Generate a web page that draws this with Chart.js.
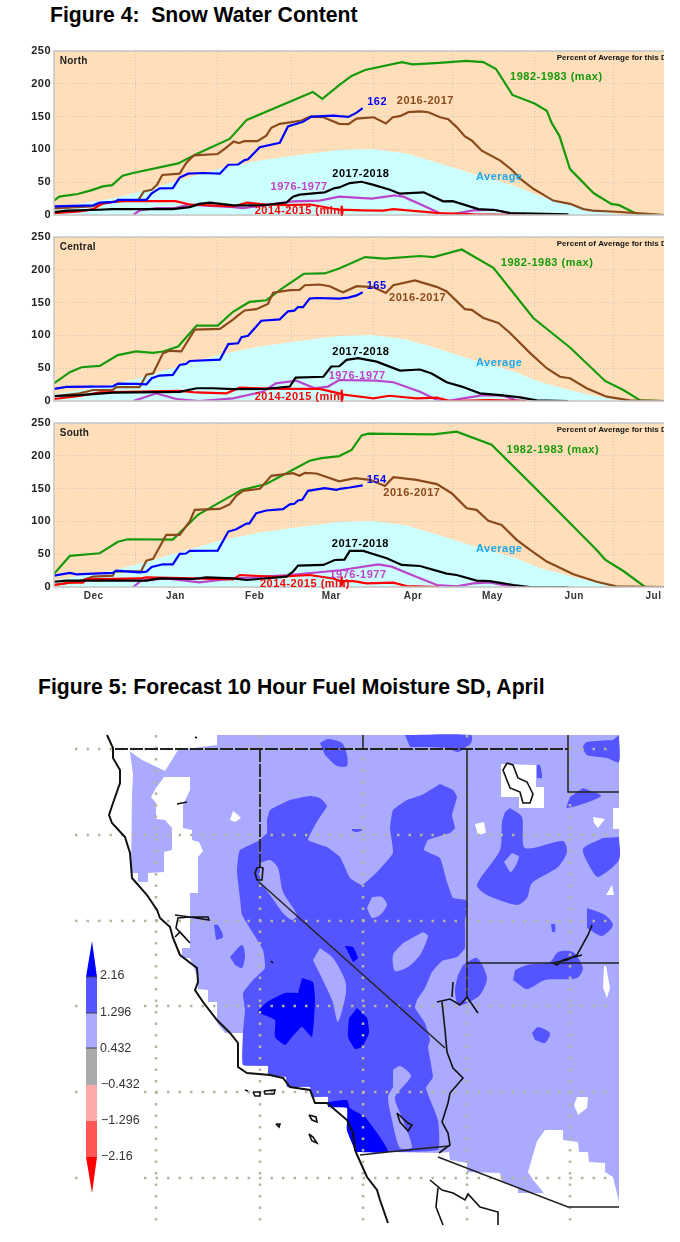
<!DOCTYPE html>
<html>
<head>
<meta charset="utf-8">
<title>Snow Water Content and Fuel Moisture</title>
<script src="https://cdn.jsdelivr.net/npm/chart.js@4"></script>
<style>
  html, body { margin: 0; padding: 0; background: #fff; }
  body { position: relative; width: 680px; height: 1242px; overflow: hidden; font-family: "Liberation Sans", Arial, sans-serif; }
  canvas { position: absolute; left: 0; filter: blur(0.4px); }
  h2 { position: absolute; margin: 0; font-size: 21.2px; font-weight: bold; line-height: 24px; color: #000; white-space: pre; }
</style>
</head>
<body>
<h2 style="left:50px;top:3px">Figure 4:  Snow Water Content</h2>
<canvas id="north" style="top:40px" width="680" height="187"></canvas>
<canvas id="central" style="top:226px" width="680" height="187"></canvas>
<canvas id="south" style="top:412px" width="680" height="195"></canvas>
<h2 style="left:38px;top:675px">Figure 5: Forecast 10 Hour Fuel Moisture SD, April</h2>
<canvas id="map" style="top:720px" width="680" height="522"></canvas>

<script>
// x axis is days since Dec 1, every series is [day, percent of average]
const monthEdges = [31, 62, 90, 121, 151, 182, 212];
const monthCenters = [15, 46, 76, 105, 136, 166, 197, 227];
const monthLabels = ['Dec', 'Jan', 'Feb', 'Mar', 'Apr', 'May', 'Jun', 'Jul'];
const percentTicks = [0, 50, 100, 150, 200, 250];

const average = [[0,10],[10,17],[22,25],[31,34],[45,50],[63,71],[78,83],[90,90],[108,99],[120,100.5],[133,94],[146,79],[159,62],[174,45],[184,29],[197,15],[206,7],[213,1.5],[222,0],[231,0]];

const northMax = [[0,22],[2,28],[9,32],[14,37.5],[18.5,43.6],[22,45.6],[26,60],[30,64],[47,78.6],[54,93],[66.5,116],[73,145],[98,187.6],[101.6,177],[108,198],[112.7,212],[117.8,221],[131.7,233],[135.8,229.6],[146,232],[156,235],[162.6,233],[167.4,222.6],[173.6,183],[182,170],[186.6,159],[188.5,140],[191.4,120.7],[195.4,70],[204.3,33.5],[211,17],[214,15],[221.3,0.5],[231,0]];
const north2016 = [[0,10],[9,12],[14,13],[22,20],[32,23],[34,36],[37,38.5],[39,46],[41,61],[47.6,63],[50,79],[53,91],[62,93],[65,102],[68,112],[70,109.5],[72,112.6],[77,112.6],[80.4,121],[82.3,133],[85.5,139],[90,141.5],[93.7,144],[97,150],[102,149],[108,139],[111.5,138.4],[114.6,147],[121,149],[125.7,139.5],[128.3,149],[131,150.6],[134.2,156.7],[138.6,158],[141.8,156.7],[146.2,149],[149.3,146],[152.5,134],[155.6,119.7],[158.2,113.6],[162,98],[169,83],[173.3,69],[177,53.8],[181.5,40],[185.3,31],[189,22],[195.4,17],[200.5,9],[204,6.6],[214.4,4.6],[220.7,3],[231,0]];
const north2018 = [[0,13],[14.8,14.7],[17.3,19],[23,20],[24.2,23],[35,23],[37,33],[40,40.5],[45,41],[47.6,57],[50.8,63],[56.4,64],[62.8,63],[66,76.6],[69.7,77],[72.2,83.7],[73.5,85],[77.9,103.4],[85.5,110],[88.6,135],[94.3,142],[97.5,150],[105.7,151.6],[108,150.6],[111.5,149.6],[114.6,156],[116.9,162.8]];
const northBlack = [[0,4.5],[5,6.6],[17,8],[22,9],[45,9],[51.4,12],[55,17],[59,19],[63,17],[68,14.7],[79,14.7],[88,19],[90.5,28],[93,31],[102.5,34.5],[106.3,41],[108,42],[112,48.7],[116.5,50.7],[121,46],[127.2,38.5],[131,32.5],[140,34.5],[147.4,20.8],[151,21],[160.7,9],[167,7.6],[172.7,3],[194.8,1]];
const northPurple = [[30,0],[32.5,7],[39,10.6],[46,10.6],[51,15.7],[68,12],[71.6,10.6],[90.5,20.8],[100.6,22],[108,28],[120.3,25],[129,30],[132.3,28],[146,3],[150,0.5],[158.8,7],[166.4,8],[172.7,3],[179,0]];
const northMin = [[0,3],[9.7,5.6],[14.8,9],[18.5,18],[25,21],[46,21],[51.4,16],[68,13],[73,19],[80.4,16],[88,15],[97,16],[108,8],[108.9,8],[108.9,14],[109,0],[109.1,8],[117,7],[124.7,6.6],[128.5,9],[135,6.6],[146,3],[159,1],[178,0]];

const centralMax = [[0,27],[6,44],[10.4,51.5],[17.3,53.6],[24.2,70],[31,75.5],[37.5,73.5],[41.3,75.5],[47,83],[54,115],[62,115],[67.8,136],[74,151],[80.4,153.6],[86.7,172.4],[94.6,194],[102.5,194.4],[108,202],[117.8,219.4],[125.3,217],[138.6,221],[143.7,219.4],[154.4,231],[166.4,203],[181.5,126.5],[195.4,81.6],[208.7,30.6],[215.6,16.8],[222,1],[231,0]];
const central2016 = [[0,7],[9.7,11.7],[14.8,16.8],[22.3,16.8],[23.6,21],[32.4,21],[35,40],[37.5,42],[41.3,73],[43.8,76.5],[48.2,75.5],[53.3,108.7],[62.8,110],[67.8,124],[69.7,130.6],[72.2,138],[76.6,140],[81,148],[83,165],[89.3,169],[93,169.4],[95,176.5],[100.6,177.6],[104.4,175],[108,168],[109.5,165.8],[114.6,175],[121,173.5],[125.7,164.8],[128.5,176.5],[136.7,183.7],[144.9,174],[148.7,167],[155.6,140],[158.2,139],[162.6,126.5],[168.3,119],[172.7,103.6],[180.3,73],[186.6,50],[191.6,37],[195.4,34.7],[201.7,19.4],[209.3,6.6],[218,1],[231,0]];
const central2018 = [[0,18.4],[4.7,21.4],[22.3,22.4],[24.2,26.5],[31,26],[35,25.5],[37,34.7],[40,38.8],[45,39.8],[47.6,55],[50,56.6],[51.4,61],[62.8,63],[66,86.7],[69.7,88],[71,97.4],[73.5,99.5],[78.5,122.4],[85.5,124.5],[88.6,136.7],[91,137.8],[92.4,143],[94.3,143],[96.8,156],[99.4,157],[108,156],[111.5,157.6],[114.6,161],[116.9,165.8]];
const centralBlack = [[0,7.6],[9.7,9],[22.3,12.8],[47.6,14],[54,19.4],[60,19.4],[68,18],[80.4,18.4],[89.3,22],[91.5,35.7],[102,37],[105,52.6],[108,53],[110.8,62.8],[115.2,65.3],[122.2,60],[131,46.4],[138.6,48],[143,42],[148.7,28.6],[154.4,22],[161.3,11.7],[169,9],[176.5,5.6],[182.8,1],[194.8,0]];
const centralPurple = [[30,0],[38.8,11.7],[46.3,3],[55,0],[67.8,4],[79,14],[84,27],[91.8,31],[98.7,19.4],[103.8,22],[108,32],[122,31],[128.5,28.6],[138.6,14],[145,1.5],[148.7,0],[155,4],[162.6,9],[170.2,8],[175,1],[179,0]];
const centralMin = [[0,3],[9.7,7.6],[17.3,13],[47.6,15.3],[54,13],[65.3,11.7],[70.3,20.4],[78,19.4],[85.5,18.4],[100.6,18.4],[108,11.7],[108.9,11],[108.9,17],[109,0],[109.1,10],[121,4],[127,8],[137.3,4],[145,5],[150,0],[165,1.5],[179,0]];

const southMax = [[0,20],[6,47.4],[17.3,51.4],[24.2,69],[28,72.8],[45,72.3],[54.5,110],[71,148],[80.4,157],[96.8,192.5],[101.3,196.5],[108,199.6],[112.7,209],[116.5,231],[119,233.7],[143.7,232.7],[152.5,236.8],[165.7,217],[181,155.8],[205.5,56.5],[208.7,41.8],[215.6,24.4],[223.8,0],[231,0]];
const south2016 = [[0,3],[9.7,9],[14.8,15.8],[22.3,17.3],[23,23.4],[33,24.4],[35,40],[37.5,42.8],[42.5,79.4],[47.6,79.4],[51.4,99.8],[53.3,117.6],[62.8,119],[66.5,126],[69,139],[71.6,146.6],[78,149.7],[82.3,169.5],[90.5,173.6],[93,169.5],[95,174],[99.4,173],[108,161],[114,166],[119.7,163.4],[125.3,154],[128.5,167.5],[137.3,163.4],[145,156.8],[150.6,143],[156.3,120],[160,117.6],[164.5,100.8],[169.5,94.7],[175.2,71.8],[180.3,56.5],[186.6,38.7],[196.7,19.3],[205.5,8],[213,1],[231,0]];
const south2018 = [[0,17.3],[6,21.4],[8.5,19.3],[14.8,20.4],[22.3,21.4],[23.6,25],[32.4,22.4],[35,23.4],[37,30.5],[41.3,34.6],[45,34.6],[47.6,50.4],[50,51],[51.4,55],[62,55.5],[66,84.5],[69,88],[72.9,96.7],[74,97],[76.6,112.5],[80.4,116.6],[86.7,118.6],[89.3,126],[91,126.8],[92.4,131.9],[94,133],[96.2,146.6],[102.5,150.7],[107,148],[108.3,149.7],[112,151.7],[116.9,154.8]];
const southBlack = [[0,8],[4.7,9.7],[35,9.7],[40,13],[52.6,12.2],[57.7,14.8],[67.8,13],[72.9,10.7],[88,15.8],[90.5,23.4],[92.4,32.6],[102,33.6],[106.3,41.2],[110,41.8],[112,55],[117.1,55],[126,43.8],[131.7,33.6],[138.6,32],[148.7,20.4],[152.5,18.3],[160,9.7],[165,9],[174,3],[180.3,0],[194.8,0]];
const southPurple = [[30,0],[33,9.7],[42.5,13],[55,7],[67.8,13],[89,18],[108.3,25.5],[122.8,34.6],[127.9,31],[135.5,18.3],[145,3],[152.5,1],[158.8,5.6],[165,7],[171.4,2],[175,0]];
const southMin = [[0,3],[6,6.6],[11,6.6],[12.2,11.7],[32.4,13],[35,14.8],[52.6,13],[67.8,11.7],[70.3,18.3],[78,16.8],[84.2,15.3],[96.8,18.3],[105.7,13],[108,9.7],[108.9,9.5],[108.9,16],[109,0],[109.1,9],[113.4,9],[118.4,5.6],[128.5,6.6],[133.5,1.5],[146,0]];

// [text, day at left edge, value at mid height]
const northNotes = [['1982-1983 (max)',172.7,210],['162',118.6,172],['2016-2017',129.8,174],['Average',159.8,57.8],['2017-2018',105.4,63],['1976-1977',82,43],['2014-2015 (min)',76,6.6]];
const centralNotes = [['1982-1983 (max)',169.2,210.7],['165',118.4,175],['2016-2017',126.9,157],['Average',159.8,57.6],['2017-2018',105.4,74.5],['1976-1977',104,38.8],['2014-2015 (min)',76,5.6]];
const southNotes = [['1982-1983 (max)',171.4,209],['154',118.4,162.4],['2016-2017',124.7,143.6],['Average',159.8,57.5],['2017-2018',105.2,65.7],['1976-1977',104.3,17.8],['2014-2015 (min)',78,4]];
const noteColors = ['#169a0c', '#0000ff', '#8a4a1c', '#19a9f0', '#000000', '#c040c8', '#ff0000'];

const GREEN = '#169a0c', BROWN = '#8b4a1c', BLUE = '#0000ff', PURPLE = '#bb44cc', RED = '#ff0000';

const panelPlugin = {
  id: 'panel',
  beforeDraw(chart) {
    const { ctx, chartArea: a } = chart;
    ctx.letterSpacing = '0.5px';
    ctx.fillStyle = '#ffdfba';
    ctx.fillRect(a.left, a.top, a.right - a.left, a.bottom - a.top);
  },
  afterDatasetsDraw(chart, args, opts) {
    const { ctx, chartArea: a, scales: { x, y } } = chart;
    ctx.save();
    ctx.strokeStyle = '#c6c6c6';
    ctx.lineWidth = 1.5;
    ctx.beginPath();
    ctx.moveTo(a.right, a.top); ctx.lineTo(a.left, a.top); ctx.lineTo(a.left, a.bottom); ctx.lineTo(a.right, a.bottom);
    ctx.stroke();
    ctx.textBaseline = 'middle';
    ctx.font = 'bold 11px "Liberation Sans"';
    opts.notes.forEach(([text, day, val], i) => {
      ctx.fillStyle = noteColors[i];
      ctx.fillText(text, x.getPixelForValue(day), y.getPixelForValue(val));
    });
    ctx.letterSpacing = '0.2px';
    ctx.fillStyle = '#222';
    ctx.font = 'bold 10px "Liberation Sans"';
    ctx.fillText(opts.name, x.getPixelForValue(2.2), y.getPixelForValue(235));
    ctx.beginPath();
    ctx.rect(a.left, a.top, a.right - a.left, a.bottom - a.top);
    ctx.clip();
    ctx.letterSpacing = '0px';
    ctx.fillStyle = '#111';
    ctx.font = 'bold 8px "Liberation Sans"';
    ctx.fillText('Percent of Average for this Day', x.getPixelForValue(190.4), y.getPixelForValue(240));
    ctx.restore();
  }
};

function lineSet(pts, color) {
  return {
    data: pts.map(([x, y]) => ({ x, y })),
    borderColor: color,
    borderWidth: 2.2,
    pointRadius: 0,
    fill: false
  };
}

function makePanel(id, name, notes, lines, bottomSpace, showMonths) {
  const canvas = document.getElementById(id);
  const sets = lines.map(([pts, color]) => lineSet(pts, color));
  sets.push({
    data: average.map(([x, y]) => ({ x, y })),
    borderWidth: 0,
    pointRadius: 0,
    backgroundColor: '#ccffff',
    fill: 'origin'
  });
  return new Chart(canvas, {
    type: 'line',
    data: { datasets: sets },
    plugins: [panelPlugin],
    options: {
      responsive: false,
      animation: false,
      layout: { padding: { top: 11, right: 16, left: 0, bottom: 0 } },
      plugins: {
        legend: { display: false },
        tooltip: { enabled: false },
        panel: { name, notes }
      },
      scales: {
        x: {
          type: 'linear', min: 0, max: 231,
          afterBuildTicks(s) { s.ticks = monthEdges.map(value => ({ value })); },
          afterFit(s) { s.height = 0; },
          ticks: { display: false },
          border: { display: false, dash: [1, 2] },
          grid: { color: 'rgba(190,190,190,0.8)', drawTicks: false }
        },
        x2: {
          type: 'linear', position: 'bottom', min: 0, max: 231,
          afterBuildTicks(s) { s.ticks = monthCenters.map(value => ({ value })); },
          afterFit(s) { s.height = bottomSpace; },
          border: { display: false },
          grid: { display: false, drawTicks: false },
          ticks: {
            display: showMonths,
            autoSkip: false, maxRotation: 0, padding: 3,
            color: '#333', font: { family: 'Liberation Sans', size: 10, weight: 'bold' },
            callback: v => monthLabels[monthCenters.indexOf(v)]
          }
        },
        y: {
          min: 0, max: 250,
          afterBuildTicks(s) { s.ticks = percentTicks.map(value => ({ value })); },
          afterFit(s) { s.width = 54; },
          border: { display: false, dash: [1, 2] },
          grid: { color: 'rgba(190,190,190,0.8)', drawTicks: false },
          ticks: { color: '#222', padding: 3, font: { family: 'Liberation Sans', size: 11, weight: 'bold' } }
        }
      }
    }
  });
}

makePanel('north', 'North', northNotes, [[northBlack,'#000'],[north2018,BLUE],[northMin,RED],[northPurple,PURPLE],[north2016,BROWN],[northMax,GREEN]], 12, false);
makePanel('central', 'Central', centralNotes, [[centralBlack,'#000'],[central2018,BLUE],[centralMin,RED],[centralPurple,PURPLE],[central2016,BROWN],[centralMax,GREEN]], 12, false);
makePanel('south', 'South', southNotes, [[southBlack,'#000'],[south2018,BLUE],[southMin,RED],[southPurple,PURPLE],[south2016,BROWN],[southMax,GREEN]], 20, true);

const gridX = [156, 260, 363, 467, 570];
const gridY = [749, 835, 921, 1006, 1092, 1178];

const lightArea = [[217,735],[619,735],[619,1202],[613,1177],[605,1172],[605,1163],[589,1162],[588,1152],[579,1152],[578,1142],[563,1140],[563,1130],[545,1130],[537,1141],[528,1172],[533,1180],[544,1193],[518,1193],[518,1187],[502,1182],[500,1173],[467,1172],[467,1163],[450,1160],[449,1152],[438,1153],[388,1152],[357,1152],[355,1150],[347,1130],[347,1108],[328,1107],[328,1097],[312,1097],[310,1087],[287,1087],[286,1077],[268,1075],[268,1066],[243,1065],[243,1033],[225,1033],[217,1023],[217,1002],[208,1002],[208,990],[198,989],[198,978],[190,958],[182,958],[182,948],[190,948],[190,893],[198,893],[198,857],[203,851],[199,842],[192,840],[192,830],[183,828],[183,805],[190,790],[190,777],[164,777],[156,788],[151,797],[156,803],[156,819],[165,820],[172,828],[172,850],[164,852],[164,872],[148,873],[148,882],[138,882],[138,873],[131,873],[132,793],[133,775],[130,752],[128,750],[142,760],[165,771],[178,750],[217,745]];

const mainBlob = [[440,784],[453,790],[457,797],[452,815],[455,828],[450,833],[428,840],[424,850],[440,858],[447,882],[453,898],[466,900],[468,907],[465,920],[465,948],[457,957],[442,961],[432,972],[425,988],[417,1000],[415,1008],[425,1023],[430,1040],[428,1047],[433,1077],[426,1088],[438,1120],[438,1150],[357,1152],[355,1150],[347,1130],[347,1108],[328,1107],[328,1097],[312,1097],[310,1087],[287,1087],[286,1077],[268,1075],[268,1066],[243,1065],[243,1033],[245,1010],[243,993],[253,980],[265,968],[263,950],[253,933],[242,915],[240,898],[237,872],[238,858],[240,850],[258,841],[267,833],[267,820],[270,810],[290,800],[310,796],[320,798],[327,806],[318,820],[308,840],[327,847],[340,857],[350,878],[362,885],[377,872],[393,853],[390,828],[393,810],[407,800],[422,795]];
const utahBlob = [[510,808],[522,817],[525,848],[563,841],[567,852],[558,867],[532,883],[527,898],[517,905],[487,895],[477,885],[500,850],[502,822],[505,812]];
const mediumPatches = [
  [[320,743],[328,739],[342,743],[347,755],[347,766],[337,766],[325,755]],
  [[405,735],[471,735],[471,743],[458,752],[447,748],[410,747]],
  [[619,735],[619,762],[607,758],[587,755],[583,747],[587,742],[613,740]],
  [[537,765],[540,765],[542,778],[537,778]],
  [[583,788],[601,796],[567,808],[570,797]],
  [[352,829],[360,829],[363,830],[357,832],[352,831]],
  [[619,837],[619,860],[598,877],[590,867],[583,849],[603,838]],
  [[587,908],[605,915],[613,925],[602,936],[587,928]],
  [[515,970],[527,965],[550,962],[558,952],[573,952],[583,968],[577,978],[545,980],[527,989],[513,980]],
  [[532,1033],[538,1027],[550,1033],[545,1043],[535,1040]],
  [[463,965],[477,958],[487,978],[480,995],[467,1003],[458,1005],[455,990],[458,975]],
  [[551,924],[555,924],[555,932],[552,932]]
];
const lightHoles = [
  [[260,863],[270,860],[278,868],[283,892],[297,915],[292,920],[283,913],[270,895],[260,882]],
  [[372,897],[382,897],[387,905],[380,915],[372,918],[367,908]],
  [[423,932],[428,936],[420,955],[408,967],[395,971],[393,955],[403,943]],
  [[320,948],[333,958],[345,980],[346,993],[338,1022],[332,1000],[313,960]],
  [[393,1070],[400,1066],[411,1076],[395,1097],[400,1113],[412,1147],[400,1148],[392,1120],[388,1097],[393,1087]],
  [[512,853],[519,857],[511,872],[504,862]]
];
const medOnHoles = [
  [[214,925],[218,925],[223,937],[216,940]],
  [[230,957],[242,945],[245,955],[242,968],[235,965]]
];
const darkPatches = [
  [[302,978],[313,982],[315,1000],[312,1037],[302,1027],[292,1037],[285,1045],[275,1037],[275,1020],[258,1012],[267,1002],[285,993],[298,993]],
  [[357,1008],[367,1018],[369,1033],[362,1047],[355,1049],[348,1037],[349,1018]],
  [[345,946],[353,947],[358,958],[353,962]],
  [[328,1102],[347,1100],[350,1108],[365,1117],[380,1137],[388,1152],[357,1152],[355,1150],[347,1130],[347,1108],[328,1107]]
];
const whiteSpots = [
  [[233,811],[238,815],[241,818],[235,822],[230,820]],
  [[501,764],[536,765],[536,787],[544,787],[544,808],[519,808],[519,797],[501,797]],
  [[475,824],[484,822],[486,833],[478,835]],
  [[593,817],[605,819],[598,828],[594,823]],
  [[613,808],[619,808],[619,829],[613,829]],
  [[612,885],[614,895],[606,895]],
  [[604,966],[606,966],[610,988],[607,998],[603,988]],
  [[577,1097],[588,1097],[587,1108],[578,1115],[574,1105]]
];

const coastLine = [[107,735],[113,748],[113,758],[120,770],[120,783],[113,803],[109,815],[112,823],[125,837],[130,853],[132,878],[147,895],[157,910],[160,918],[170,927],[173,938],[180,955],[197,968],[198,982],[195,990],[203,1002],[217,1020],[230,1033],[238,1043],[238,1067],[247,1073],[270,1075],[283,1078],[290,1087],[310,1090],[315,1103],[327,1103],[347,1120],[353,1133],[355,1150],[358,1157],[367,1177],[377,1190],[380,1200],[388,1223]];
const thinLines = [
  [[175,915],[190,917],[208,917],[209,920],[190,917],[178,918],[176,928],[190,943],[180,932],[175,937]],
  [[260,867],[263,868],[262,880],[257,880],[255,873],[257,868],[260,867]],
  [[177,804],[187,802]],
  [[195,737],[197,738]],
  [[245,1090],[248,1091]],
  [[253,1092],[260,1092],[260,1096],[255,1096],[253,1092]],
  [[264,1091],[275,1090],[274,1094],[265,1094],[264,1091]],
  [[276,1124],[280,1124],[279,1127],[276,1124]],
  [[309,1115],[316,1117],[317,1122],[312,1120],[309,1115]],
  [[309,1134],[313,1137],[317,1143],[312,1141],[309,1134]],
  [[271,961],[273,963]],
  [[507,763],[503,770],[510,788],[520,792],[523,803],[530,803],[533,794],[527,782],[518,778],[513,765],[507,763]],
  [[592,925],[588,935],[577,955],[567,960],[553,963],[557,965],[563,960],[582,955]],
  [[397,1113],[408,1123],[412,1125],[408,1131],[400,1122],[397,1113]],
  [[437,1002],[450,999],[460,1005],[467,997],[478,1013]],
  [[453,982],[452,997]],
  [[442,1002],[445,1030],[447,1052],[453,1068],[463,1078],[450,1093],[448,1103],[442,1122],[448,1133],[450,1145],[439,1153]],
  [[430,1180],[442,1190],[453,1193],[465,1200],[468,1194],[480,1207],[498,1212],[498,1225]],
  [[438,1188],[436,1207],[443,1225]]
];
const stateLines = [
  [[259,882],[445,1048]],
  [[467,749],[467,997]],
  [[466,963],[619,963]],
  [[568,735],[568,792],[619,792]],
  [[363,735],[363,749]],
  [[360,1155],[388,1152],[438,1147],[450,1146]],
  [[438,1157],[568,1207],[619,1207]]
];
const dashedLines = [
  [[115,749],[568,749]],
  [[260,749],[260,868]]
];

const legendBack = [[80,930],[142,930],[142,1195],[80,1195]];
const legendBoxes = [
  [[92,941],[97,977],[86,977]],
  [[86,977],[97,977],[97,1013],[86,1013]],
  [[86,1013],[97,1013],[97,1048],[86,1048]],
  [[86,1048],[97,1048],[97,1085],[86,1085]],
  [[86,1085],[97,1085],[97,1121],[86,1121]],
  [[86,1121],[97,1121],[97,1157],[86,1157]],
  [[86,1157],[97,1157],[92,1193]]
];
const legendColors = ['#0000ff', '#5555ff', '#aaaaff', '#aaaaaa', '#ffaaaa', '#ff5555', '#ff0000'];
const legendEdges = [977, 1013, 1048];
const legendValues = ['2.16', '1.296', '0.432', '\u22120.432', '\u22121.296', '\u22122.16'];
const legendValueY = [976, 1013, 1049, 1085, 1121, 1157];

const LIGHT = '#aaaaff', MEDIUM = '#5555ff', DARK = '#0000ff';

function shape(pts, color, tension) {
  return { data: pts.map(([x, y]) => ({ x, y })), showLine: true, tension: tension || 0, borderWidth: 0, pointRadius: 0, backgroundColor: color, fill: 'shape' };
}
function stroke(pts, color, width, dash) {
  return { data: pts.map(([x, y]) => ({ x, y })), showLine: true, borderColor: color, borderWidth: width, borderDash: dash || [], pointRadius: 0, fill: false };
}

// paint order, first is at the bottom
const mapLayers = [
  shape(lightArea, LIGHT),
  shape(mainBlob, MEDIUM, 0.12),
  shape(utahBlob, MEDIUM, 0.25),
  ...mediumPatches.map(p => shape(p, MEDIUM, 0.25)),
  ...lightHoles.map(p => shape(p, LIGHT, 0.25)),
  ...medOnHoles.map(p => shape(p, MEDIUM, 0.3)),
  ...darkPatches.map(p => shape(p, DARK, 0.15)),
  ...whiteSpots.map(p => shape(p, '#ffffff')),
  ...gridX.map(x => stroke([[x, 735], [x, 1225]], '#b5b5a0', 2.5, [2.5, 9])),
  ...gridY.map(y => stroke([[75, y], [613, y]], '#b5b5a0', 2.5, [2.5, 9])),
  shape(legendBack, '#ffffff'),
  ...thinLines.map(p => stroke(p, '#111', 1.6)),
  stroke(coastLine, '#111', 2),
  ...stateLines.map(p => stroke(p, '#222', 1.5)),
  ...dashedLines.map(p => stroke(p, '#222', 1.8, [13, 2])),
  ...legendBoxes.map((p, i) => shape(p, legendColors[i])),
  ...legendEdges.map(y => stroke([[86, y], [97, y]], '#444', 1))
];
mapLayers.forEach((d, i) => { d.order = mapLayers.length - i; });

const legendTextPlugin = {
  id: 'legendText',
  afterDatasetsDraw(chart) {
    const { ctx, scales: { x, y } } = chart;
    ctx.save();
    ctx.fillStyle = '#333';
    ctx.font = '12.5px "Liberation Sans"';
    ctx.textBaseline = 'middle';
    legendValues.forEach((t, i) => {
      ctx.fillText(t, x.getPixelForValue(t[0] === '\u2212' ? 101 : 100), y.getPixelForValue(legendValueY[i]));
    });
    ctx.restore();
  }
};

new Chart(document.getElementById('map'), {
  type: 'scatter',
  data: { datasets: mapLayers },
  plugins: [legendTextPlugin],
  options: {
    responsive: false,
    animation: false,
    plugins: {
      legend: { display: false },
      tooltip: { enabled: false },
      filler: { drawTime: 'beforeDatasetDraw' }
    },
    scales: {
      x: { type: 'linear', min: 0, max: 680, display: false },
      y: { type: 'linear', min: 720, max: 1242, reverse: true, display: false }
    }
  }
});
</script>
</body>
</html>
